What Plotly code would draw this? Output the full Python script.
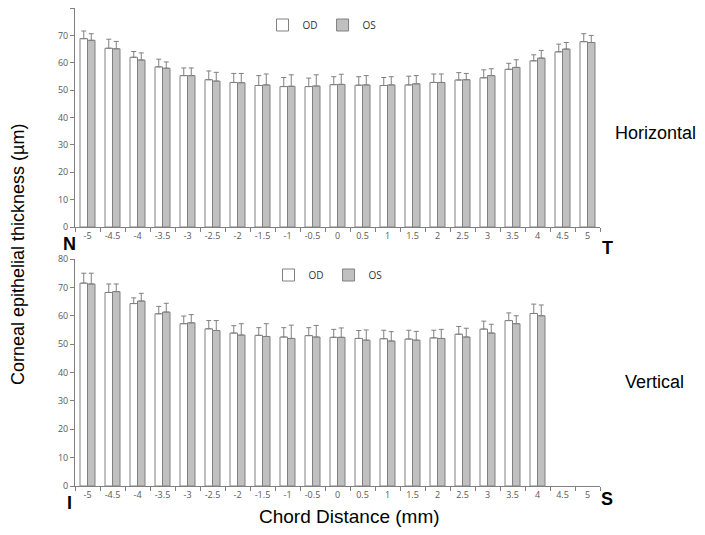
import plotly.graph_objects as go

categories = ["-5", "-4.5", "-4", "-3.5", "-3", "-2.5", "-2", "-1.5", "-1", "-0.5", "0",
              "0.5", "1", "1.5", "2", "2.5", "3", "3.5", "4", "4.5", "5"]

# Horizontal meridian (N -> T)
h_od = [68.8, 65.3, 62.0, 58.5, 55.3, 53.8, 52.8, 51.7, 51.3, 51.3, 52.0,
        51.8, 51.7, 51.9, 52.8, 53.7, 54.5, 57.6, 60.7, 64.0, 67.7]
h_od_err = [2.8, 3.3, 2.1, 2.8, 2.8, 3.2, 3.3, 3.6, 3.3, 3.1, 2.9,
            3.1, 2.9, 3.2, 3.1, 2.7, 2.9, 2.2, 2.2, 2.8, 2.9]
h_os = [68.2, 65.1, 61.0, 58.0, 55.3, 53.3, 52.7, 51.9, 51.4, 51.5, 52.1,
        51.9, 51.9, 52.3, 52.8, 53.8, 55.3, 58.3, 61.7, 65.0, 67.4]
h_os_err = [2.4, 2.7, 2.6, 2.3, 2.8, 3.2, 3.4, 4.0, 4.2, 4.1, 3.7,
            3.4, 3.0, 3.0, 3.1, 2.3, 2.5, 2.8, 2.8, 2.4, 2.6]

# Vertical meridian (I -> S)
v_od = [71.5, 68.2, 64.3, 60.7, 57.2, 55.4, 53.9, 53.1, 52.5, 53.0, 52.4,
        52.0, 51.9, 51.8, 52.2, 53.5, 55.3, 58.3, 60.8, None, None]
v_od_err = [3.5, 3.0, 2.0, 2.6, 2.7, 2.9, 2.6, 2.7, 3.3, 2.8, 2.8,
            2.8, 3.0, 3.1, 2.7, 2.7, 2.8, 2.7, 3.3, None, None]
v_os = [71.2, 68.5, 65.2, 61.3, 57.5, 54.8, 53.2, 52.7, 52.0, 52.5, 52.4,
        51.4, 51.1, 51.4, 52.0, 52.5, 53.9, 57.2, 60.0, None, None]
v_os_err = [3.8, 2.7, 2.7, 3.1, 2.9, 3.5, 4.0, 4.5, 4.7, 4.1, 3.3,
            3.6, 3.3, 3.1, 3.2, 3.1, 3.1, 2.8, 3.8, None, None]

edge = "#808080"
od_fill = "#ffffff"
os_fill = "#c0c0c0"
tick_font = dict(family="Open Sans, Liberation Sans, sans-serif", size=9, color="#595959")

# page geometry: the page body adds an 8px offset, so the figure is sized
# to fit the 705x535 window without scrollbars
OFF = 8
FW, FH = 689, 519
ML, MT = 67, 0
PW, PH = 525, 478
MR = FW - ML - PW
MB = FH - MT - PH


def yfrac(py):
    return 1 - (py - OFF - MT) / PH


def xfrac(px):
    return (px - OFF - ML) / PW


fig = go.Figure()


def add_pair(xa, ya, od, od_e, os_, os_e, legend):
    fig.add_trace(go.Bar(
        x=categories, y=od, name="OD", legend=legend, xaxis=xa, yaxis=ya,
        marker=dict(color=od_fill, line=dict(color=edge, width=1)),
        error_y=dict(type="data", array=od_e, symmetric=False,
                     arrayminus=[0] * len(od_e), color=edge, thickness=1, width=2.5),
    ))
    fig.add_trace(go.Bar(
        x=categories, y=os_, name="OS", legend=legend, xaxis=xa, yaxis=ya,
        marker=dict(color=os_fill, line=dict(color=edge, width=1)),
        error_y=dict(type="data", array=os_e, symmetric=False,
                     arrayminus=[0] * len(os_e), color=edge, thickness=1, width=2.5),
    ))


add_pair("x", "y", h_od, h_od_err, h_os, h_os_err, "legend")
add_pair("x2", "y2", v_od, v_od_err, v_os, v_os_err, "legend2")

xax = dict(type="category", categoryorder="array", categoryarray=categories,
           tickson="boundaries", ticks="outside", ticklen=4, tickcolor=edge,
           showline=True, linecolor=edge, linewidth=1, showgrid=False,
           tickfont=tick_font, zeroline=False, automargin=False, domain=[0, 1])
yax = dict(range=[0, 80], dtick=10, ticks="outside", ticklen=4, tickcolor=edge,
           showline=True, linecolor=edge, linewidth=1, showgrid=False,
           zeroline=False, tickfont=tick_font, automargin=False)

leg_font = dict(family="Open Sans, sans-serif", size=10, color="#333333")

fig.update_layout(
    width=FW, height=FH,
    margin=dict(l=ML, r=MR, t=MT, b=MB, autoexpand=False),
    paper_bgcolor="white", plot_bgcolor="white",
    barmode="group", bargap=0.4, bargroupgap=0,
    font=dict(family="Liberation Sans, Arial, sans-serif", color="#000000"),
    xaxis=dict(xax, anchor="y"),
    yaxis=dict(yax, anchor="x", domain=[yfrac(227), 1]),
    xaxis2=dict(xax, anchor="y2"),
    yaxis2=dict(yax, anchor="x2", domain=[0, yfrac(259)]),
    legend=dict(orientation="h", x=xfrac(322), y=yfrac(25), xanchor="center", yanchor="middle",
                font=leg_font, itemwidth=30, bgcolor="rgba(0,0,0,0)"),
    legend2=dict(orientation="h", x=xfrac(328), y=yfrac(275), xanchor="center", yanchor="middle",
                 font=leg_font, itemwidth=30, bgcolor="rgba(0,0,0,0)"),
)

fam = "Liberation Sans, Arial, sans-serif"
ann_font = dict(family=fam, size=18, color="#000000")
bold_font = dict(family=fam, size=18, color="#000000")
title_font = dict(family=fam, size=19, color="#000000")
annotations = [
    ("Corneal epithelial thickness (µm)", 18, 255, -90, dict(family=fam, size=18, color="#000000")),
    ("Chord Distance (mm)", 349, 516, 0, title_font),
    ("Horizontal", 655, 133, 0, ann_font),
    ("Vertical", 654, 382, 0, ann_font),
    ("<b>N</b>", 69, 244, 0, bold_font),
    ("<b>T</b>", 607, 248, 0, bold_font),
    ("<b>I</b>", 69, 503, 0, bold_font),
    ("<b>S</b>", 607, 499, 0, bold_font),
]
for text, px, py, ang, fnt in annotations:
    fig.add_annotation(text=text, x=xfrac(px), y=yfrac(py),
                       xref="paper", yref="paper", showarrow=False,
                       xanchor="center", yanchor="middle",
                       textangle=ang, font=fnt)

fig.write_html("out.html")
